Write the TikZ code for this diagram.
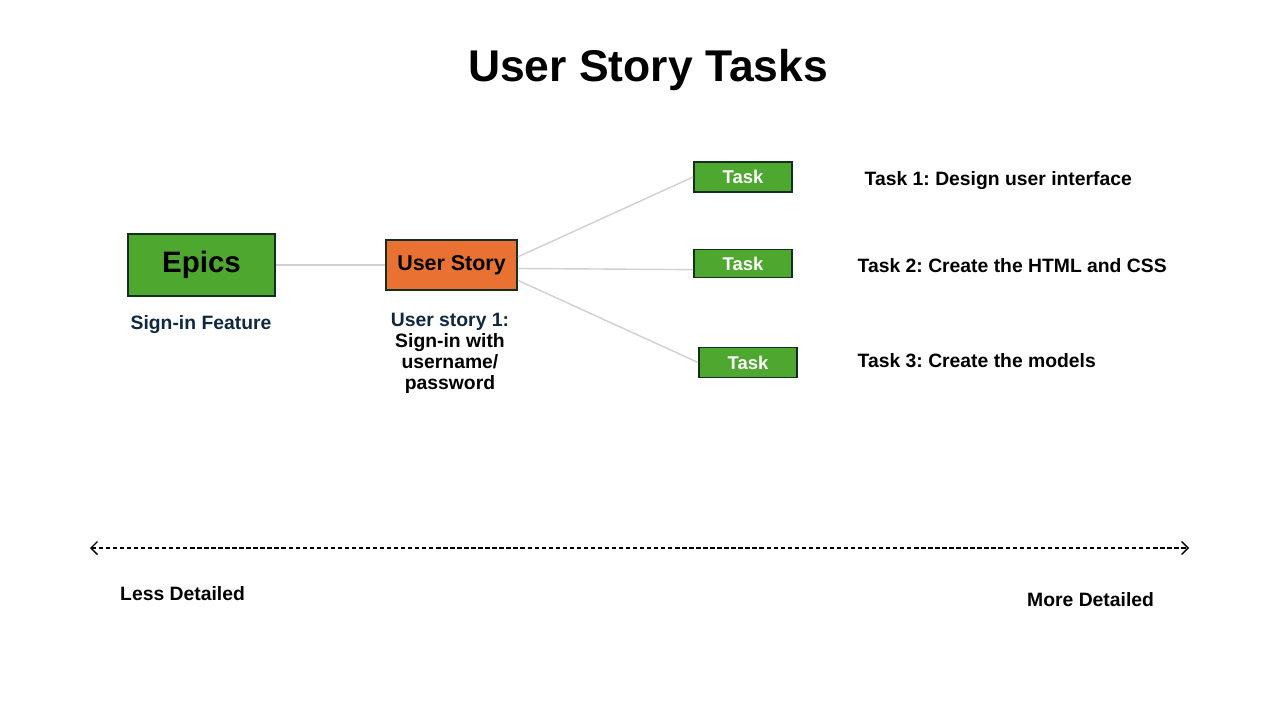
\documentclass[tikz,border=0pt]{standalone}
\usepackage{fontspec}
\setmainfont{Liberation Sans}
\usetikzlibrary{arrows.meta}
\frenchspacing
\definecolor{verde}{HTML}{4EA72E}
\definecolor{naranja}{HTML}{E97132}
\definecolor{marino}{HTML}{0E2841}
\definecolor{borde}{HTML}{12301F}
\definecolor{gris}{HTML}{D0D0D0}
\begin{document}
\begin{tikzpicture}[
    caja/.style={draw=borde, line width=1.1pt, inner sep=0pt, font=\bfseries},
    tarea/.style={caja, fill=verde, minimum width=1.96cm, minimum height=0.6cm, text=white, font=\bfseries\fontsize{10.5}{12}\selectfont},
    etiqueta/.style={font=\bfseries\fontsize{11}{12}\selectfont},
    enlace/.style={draw=gris, line width=0.8pt},
    punta/.tip={Straight Barb[length=1.3mm, width=2.6mm, line width=0.8pt]}
  ]
            \useasboundingbox (0,0) rectangle (25.6,-14.4);
            \node (titulo) at (12.96,-1.4) {\bfseries\fontsize{25.3}{30}\selectfont User Story Tasks};
            \node[caja, fill=verde, minimum width=2.94cm, minimum height=1.24cm, font=\bfseries\fontsize{16.8}{20}\selectfont] (nodo1) at (4.03,-5.3) {Epics};
            \node[caja, fill=naranja, minimum width=2.62cm, minimum height=1cm, font=\bfseries\fontsize{12.2}{14}\selectfont] (nodo2) at (9.03,-5.3) {User Story};
            \node[tarea] (nodo3) at (14.86,-3.54) {Task};
            \node[tarea, minimum height=0.56cm] (nodo4) at (14.86,-5.27) {Task};
            \node[tarea] (nodo5) at (14.96,-7.25) {Task};
            \node[etiqueta, text=marino] (rotulo1) at (4.02,-6.5) {Sign-in Feature};
            \node[etiqueta, align=center] (rotulo2) at (9.0,-7.07) {\textcolor{marino}{User story 1:}\\Sign-in with\\username/\\password};
            \node[etiqueta, anchor=west] (rotulo3) at (17.17,-3.61) {Task 1: Design user interface};
            \node[etiqueta, anchor=west] (rotulo4) at (17.03,-5.32) {Task 2: Create the HTML and CSS};
            \node[etiqueta, anchor=west] (rotulo5) at (17.03,-7.22) {Task 3: Create the models};
            \node[etiqueta, anchor=west] (menos) at (2.28,-11.88) {Less Detailed};
            \node[etiqueta, anchor=west] (mas) at (20.42,-12.0) {More Detailed};
            \coordinate (izq) at (1.8,-10.96);
            \coordinate (der) at (23.78,-10.96);
            \draw[enlace] (nodo1.east) -- (nodo2.west);
            \draw[enlace] (nodo2.7) -- (nodo3.west);
            \draw[enlace] (nodo2.-3.5) -- (nodo4.187);
            \draw[enlace] (nodo2.-13) -- (nodo5.west);
            \draw[punta-punta, line width=0.8pt, dash pattern=on 2.5pt off 1.5pt] (izq) -- (der);
        \end{tikzpicture}
\end{document}
